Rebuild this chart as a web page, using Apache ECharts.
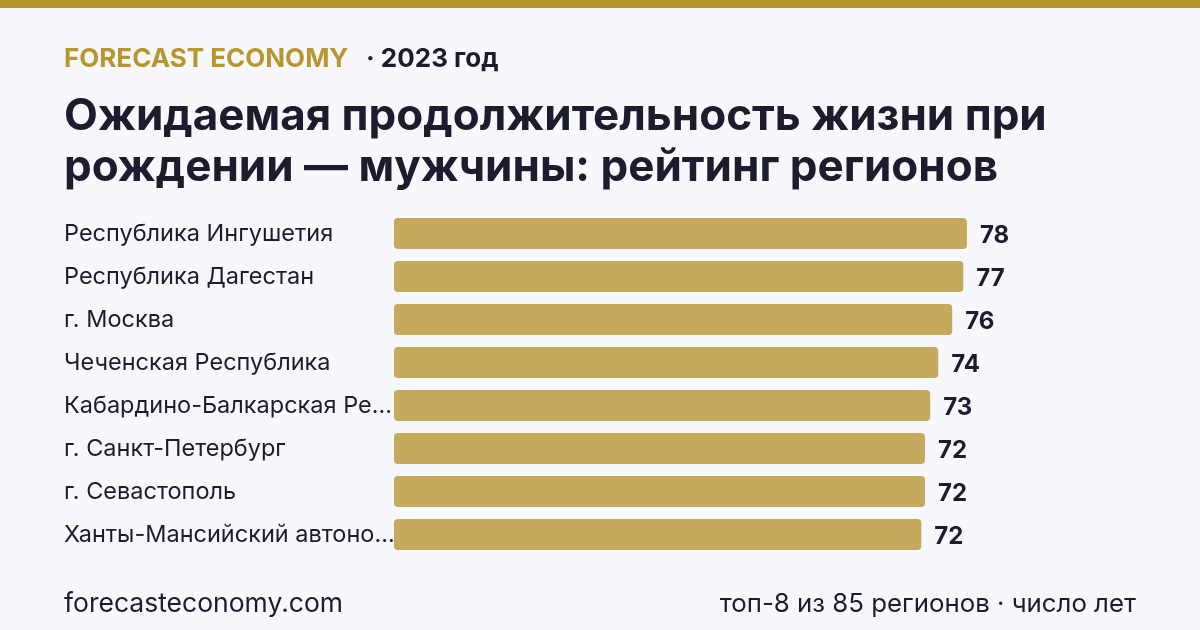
<!DOCTYPE html>
<html><head><meta charset="utf-8">
<script src="https://cdn.jsdelivr.net/npm/echarts@6/dist/echarts.min.js"></script>
<style>html,body{margin:0;padding:0;background:#F7F8FC;}#c{width:1200px;height:630px;}</style>
</head><body><div id="c"></div>
<script>
const categories = ["Республика Ингушетия","Республика Дагестан","г. Москва","Чеченская Республика","Кабардино-Балкарская Республика","г. Санкт-Петербург","г. Севастополь","Ханты-Мансийский автономный округ — Югра"];
const values = [77.9, 77.4, 75.9, 74.0, 72.9, 72.2, 72.2, 71.7];
const brand = "FORECAST ECONOMY";
const yearText = "· 2023 год";
const titleText = "Ожидаемая продолжительность жизни при\nрождении — мужчины: рейтинг регионов";
const footerLeft = "forecasteconomy.com";
const footerRight = "топ-8 из 85 регионов · число лет";

const FONT = 'Inter, "Noto Sans", sans-serif';
const LABEL_FONT = '23.5px ' + FONT;
const ctx = document.createElement('canvas').getContext('2d');
function fit(text, maxW){
  ctx.font = LABEL_FONT;
  if (ctx.measureText(text).width <= maxW) return text;
  let t = text;
  while (t.length > 1 && ctx.measureText(t + '...').width > maxW) t = t.slice(0, -1);
  return t.replace(/\s+$/, '') + '...';
}

const chart = echarts.init(document.getElementById('c'), null, {renderer:'canvas'});
chart.setOption({
  backgroundColor:'#F7F8FC',
  animation:false,
  graphic:[
    {type:'rect', left:0, top:0, shape:{width:1200,height:8}, style:{fill:'#B8962E'}},
    {type:'text', left:64, top:46, style:{text:brand, font:'bold 26px '+FONT, fill:'#B8962E'}},
    {type:'text', left:366, top:46, style:{text:yearText, font:'bold 26px '+FONT, fill:'#1C1C2E'}},
    {type:'text', left:64, top:91, style:{text:titleText, font:'bold 44px '+FONT, fill:'#1C1C2E', lineHeight:51}},
    {type:'text', left:64, top:591, style:{text:footerLeft, font:'26.5px '+FONT, fill:'#1C1C2E'}},
    {type:'text', right:64, top:591, style:{text:footerRight, font:'25.8px '+FONT, fill:'#1C1C2E'}}
  ],
  grid:{left:394, top:212, width:588.4, height:344, containLabel:false},
  xAxis:{type:'value', min:0, max:80, show:false},
  yAxis:{type:'category', data:categories, inverse:true,
    axisLine:{show:false}, axisTick:{show:false},
    axisLabel:{margin:330, align:'left', formatter:v=>fit(v, 338),
      fontFamily:FONT, fontSize:23.5, color:'#1C1C2E', padding:[4,0,0,0]}},
  series:[{type:'bar', data:values, barWidth:31,
    itemStyle:{color:'#C5A95C', borderRadius:4},
    label:{show:true, position:'right', distance:13, formatter:p=>Math.round(p.value), offset:[0,2],
      fontFamily:FONT, fontWeight:'bold', fontSize:24, color:'#1C1C2E'}}]
});
</script></body></html>
